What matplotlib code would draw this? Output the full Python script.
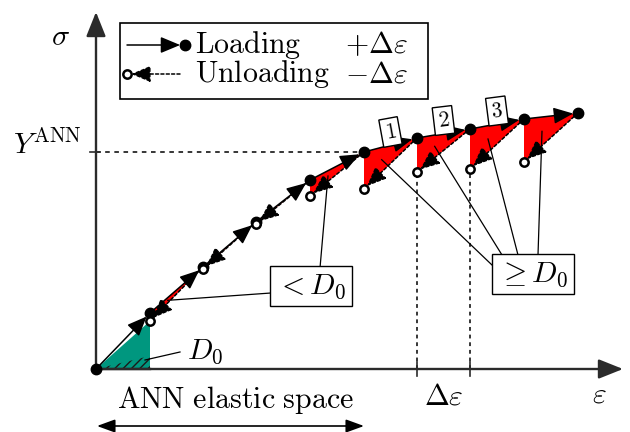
import matplotlib
matplotlib.use("Agg")
import matplotlib.pyplot as plt
from matplotlib.patches import Polygon, Rectangle, FancyArrowPatch
import numpy as np

plt.rcParams['mathtext.fontset'] = 'cm'
plt.rcParams['hatch.linewidth'] = 1.0

# ---- data (schematic units) ----
strain = [0, 54, 107, 160, 214, 268, 321, 374, 428, 482]
stress = [0, 56, 102, 147, 189, 217, 231, 240, 250, 256]
unload_stress = [48, 100, 145, 173, 180, 197, 200, 207]   # at strain[1..8]
box_labels = ["1", "2", "3"]
small_idx = [1, 4]            # triangles pointed to by "< D0"
large_idx = [5, 6, 7, 8]      # triangles pointed to by ">= D0"
yield_idx = 5

TEAL = '#00977f'
AX = '#2b2b2b'
FS = 21.5

fig = plt.figure(figsize=(6.3, 4.32), dpi=100)
ax = fig.add_axes([0, 0, 1, 1])
ax.set_xlim(-96, 534)
ax.set_ylim(-63, 369)
ax.axis('off')

def arrow(p0, p1, ls='-', sA=0, sB=0, style='-|>,head_length=0.6,head_width=0.25', lw=1.1, color='k', z=4):
    a = FancyArrowPatch(p0, p1, arrowstyle=style, mutation_scale=20, shrinkA=sA, shrinkB=sB,
                        linestyle=ls, lw=lw, color=color, zorder=z)
    ax.add_patch(a)

# axes
arrow((0, 0), (527, 0), style='-|>,head_length=0.75,head_width=0.3', lw=1.7, color=AX, z=2)
arrow((0, 0), (0, 357), style='-|>,head_length=0.75,head_width=0.3', lw=1.7, color=AX, z=2)
ax.text(-36, 332, r'$\sigma$', fontsize=FS, ha='center', va='center')
ax.text(503, -25, r'$\varepsilon$', fontsize=FS, ha='center', va='center')

# elastic teal triangle + hatched D0
e1, u1 = strain[1], unload_stress[0]
ax.add_patch(Polygon([(0, 0), (e1, u1), (e1, 0)], closed=True, fc=TEAL, ec='none', zorder=1))
ax.add_patch(Polygon([(0, 0), (e1, 13), (e1, 0)], closed=True, fc=TEAL, ec='#1a1a1a',
                     lw=0, hatch='////', zorder=1.5))
ax.plot([0, e1], [0, 0], color=AX, lw=1.7, zorder=2)

# Y^ANN
ys = stress[yield_idx]
ax.plot([0, strain[yield_idx]], [ys, ys], ls=(0, (3, 3)), color='k', lw=1.1, zorder=1)
ax.plot([-6, 4], [ys, ys], color=AX, lw=1.2, zorder=2)
ax.text(-49, 224, r'$Y^{\mathrm{ANN}}$', fontsize=FS, ha='center', va='center')

# red triangles
for i in range(1, 9):
    ax.add_patch(Polygon([(strain[i], stress[i]), (strain[i+1], stress[i+1]),
                          (strain[i], unload_stress[i-1])], closed=True, fc='red', ec='none', zorder=1))

# vertical dashed lines + ticks
for i in (6, 7):
    ax.plot([strain[i], strain[i]], [0, unload_stress[i-1]], ls=(0, (2.5, 2.5)), color='k', lw=1.1, zorder=1)
    ax.plot([strain[i], strain[i]], [-7, 7], color=AX, lw=1.2, zorder=2)
ax.text((strain[6] + strain[7]) / 2, -27, r'$\Delta\varepsilon$', fontsize=FS, ha='center', va='center')

# loading arrows
for i in range(9):
    arrow((strain[i], stress[i]), (strain[i+1], stress[i+1]), sB=3.5)
# unloading arrows
for i in range(1, 9):
    arrow((strain[i+1], stress[i+1]), (strain[i], unload_stress[i-1]), ls=(0, (2, 1.5)), sB=3)

# markers
ax.plot(strain, stress, 'o', color='k', ms=7.5, zorder=6)
ax.plot(strain[1:9], unload_stress, 'o', mfc='white', mec='k', mew=1.8, ms=6, zorder=7)

# numbered boxes
for k, lab in enumerate(box_labels):
    i = 5 + k
    xm = (strain[i] + strain[i+1]) / 2
    ym = (stress[i] + stress[i+1]) / 2 + 13
    ang = 0.7 * np.degrees(np.arctan2(stress[i+1] - stress[i], strain[i+1] - strain[i]))
    ax.text(xm, ym, r'$\mathrm{' + lab + '}$', fontsize=15.5, ha='center', va='center',
            rotation=ang, rotation_mode='anchor',
            bbox=dict(boxstyle='square,pad=0.18', fc='white', ec='k', lw=1.0), zorder=8)

def centroid(i):
    return ((2 * strain[i] + strain[i+1]) / 3, (stress[i] + stress[i+1] + unload_stress[i-1]) / 3)

# < D0 box
ax.text(215, 83, r'$<D_0$', fontsize=FS, ha='center', va='center',
        bbox=dict(boxstyle='square,pad=0.2', fc='white', ec='k', lw=1.0), zorder=8)
for i, start in zip(small_idx, [(175, 76), (224, 101)]):
    c = centroid(i)
    ax.plot([start[0], c[0]], [start[1], c[1]], color='k', lw=0.9, zorder=3)

# >= D0 box
ax.text(437, 95, r'$\geq D_0$', fontsize=FS, ha='center', va='center',
        bbox=dict(boxstyle='square,pad=0.2', fc='white', ec='k', lw=1.0), zorder=8)
for i, start in zip(large_idx, [(396, 104), (406, 114), (422, 114), (442, 114)]):
    c = centroid(i)
    ax.plot([start[0], c[0]], [start[1], c[1]], color='k', lw=0.9, zorder=3)

# D0 label
ax.text(109, 18, r'$D_0$', fontsize=FS, ha='center', va='center')
ax.plot([84, 49], [17, 9], color='k', lw=0.9, zorder=3)

# ANN elastic space
ax.text(140, -31, r'$\mathrm{ANN\ elastic\ space}$', fontsize=FS, ha='center', va='center')
arrow((1, -57), (strain[yield_idx], -57), style='<|-|>,head_length=0.55,head_width=0.2', lw=1.2)

# legend
ax.add_patch(Rectangle((24, 270), 308, 76, fc='white', ec='k', lw=1.2, zorder=9))
y1, y2 = 324, 295
arrow((31, y1), (89, y1), sB=3.5, z=10)
ax.plot([89], [y1], 'o', color='k', ms=7.5, zorder=11)
arrow((84, y2), (31, y2), ls=(0, (2, 1.5)), sB=3, z=10)
ax.plot([31], [y2], 'o', mfc='white', mec='k', mew=1.8, ms=6, zorder=11)
ax.text(99, y1, r'$\mathrm{Loading}$', fontsize=FS, ha='left', va='center', zorder=12)
ax.text(99, y2, r'$\mathrm{Unloading}$', fontsize=FS, ha='left', va='center', zorder=12)
ax.text(249, y1, r'$+\Delta\varepsilon$', fontsize=FS, ha='left', va='center', zorder=12)
ax.text(249, y2, r'$-\Delta\varepsilon$', fontsize=FS, ha='left', va='center', zorder=12)

fig.savefig('out.png', dpi=100)
